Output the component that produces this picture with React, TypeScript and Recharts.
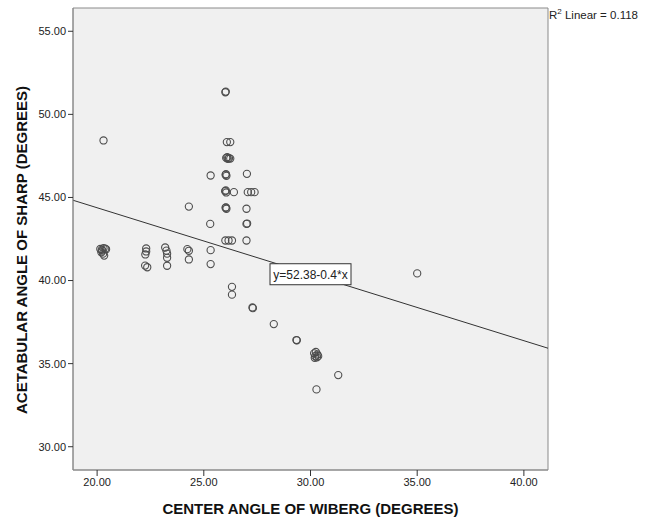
import React from 'react';
import { ScatterChart, Scatter, XAxis, YAxis, CartesianGrid, ReferenceLine, ReferenceArea, ReferenceDot, Label } from 'recharts';

// center angle of Wiberg (x) and acetabular angle of Sharp (y)
const wiberg = [
  20.15, 20.22, 20.3, 20.38, 20.42, 20.2, 20.28, 20.33, 20.25,
  22.3, 22.3, 22.26, 22.25, 22.35,
  23.19, 23.25, 23.28, 23.28, 23.28,
  24.23, 24.3, 24.3, 24.3,
  20.3,
  25.32, 25.32, 25.3, 25.32,
  26.01, 26.03,
  26.08, 26.24,
  26.05, 26.12, 26.18, 26.24, 26.1,
  26.02, 26.06, 26.04,
  26.0, 26.05, 26.03, 26.41,
  26.02, 26.06, 26.04,
  26.01, 26.16, 26.32,
  26.32, 26.32,
  27.02, 27.06, 27.22, 27.38, 27.0, 27.0, 27.03, 27.0,
  27.28, 27.3,
  28.28,
  29.34, 29.36,
  30.17, 30.25, 30.32, 30.22, 30.3, 30.36, 30.2,
  31.3,
  30.28,
  35.0,
];
const sharp = [
  41.9, 41.85, 41.95, 41.92, 41.88, 41.7, 41.62, 41.5, 41.8,
  41.93, 41.75, 41.57, 40.9, 40.8,
  41.99, 41.8, 41.62, 41.37, 40.89,
  41.89, 41.79, 41.27, 44.45,
  48.43,
  41.83, 40.99, 43.41, 46.32,
  51.33, 51.37,
  48.33, 48.33,
  47.38, 47.32, 47.36, 47.34, 47.42,
  46.36, 46.3, 46.4,
  45.38, 45.3, 45.42, 45.32,
  44.38, 44.32, 44.4,
  42.41, 42.41, 42.41,
  39.62, 39.15,
  46.42, 45.32, 45.32, 45.32, 44.32, 43.41, 43.43, 42.41,
  38.38, 38.34,
  37.38,
  36.42, 36.4,
  35.62, 35.7, 35.55, 35.45, 35.38, 35.45, 35.35,
  34.31,
  33.45,
  40.43,
];

const xTicks = [20, 25, 30, 35, 40];
const yTicks = [30, 35, 40, 45, 50, 55];
const xDomain = [18.87, 41.13];
const yDomain = [28.6, 56.4];

// fit line as printed on the chart
const intercept = 52.38;
const slope = -0.4;
const rSquared = '0.118';

const font = "'Liberation Sans', Arial, sans-serif";

const points = wiberg.map((x, i) => ({ x, y: sharp[i] }));
const fitAt = (x: number) => intercept + slope * x;

const Ring = (props: any) => (
  <circle cx={props.cx} cy={props.cy} r={3.6} fill="none" stroke="#4d4d4d" strokeWidth={1.1} />
);

const EquationBox = (props: any) => {
  const w = 81;
  const h = 21;
  return (
    <g>
      <rect x={props.cx - w / 2} y={props.cy - h / 2} width={w} height={h} fill="#fff" stroke="#333" strokeWidth={1} />
      <text x={props.cx} y={props.cy + 4.5} textAnchor="middle" fontSize={12} fontFamily={font} fill="#222">
        y=52.38-0.4*x
      </text>
    </g>
  );
};

const YTitle = () => (
  <text
    x={21}
    y={250}
    transform="rotate(-90, 21, 250)"
    textAnchor="middle"
    dominantBaseline="central"
    fontSize={15}
    fontWeight="bold"
    fill="#111"
    fontFamily={font}
  >
    ACETABULAR ANGLE OF SHARP (DEGREES)
  </text>
);

export default function App() {
  return (
    <div style={{ position: 'absolute', left: 0, top: 0, width: 648, height: 519, background: '#fff', fontFamily: font }}>
      <ScatterChart width={648} height={519} margin={{ top: 8, right: 100, bottom: 0, left: 0 }}>
        <CartesianGrid horizontal={false} vertical={false} fill="#f0f0f0" fillOpacity={1} />
        <XAxis
          type="number"
          dataKey="x"
          domain={xDomain}
          ticks={xTicks}
          allowDataOverflow
          height={49}
          tickSize={6}
          tickFormatter={(v: number) => v.toFixed(2)}
          tick={{ fontSize: 11, fill: '#222', fontFamily: font }}
          axisLine={{ stroke: '#8a8a8a' }}
          tickLine={{ stroke: '#333' }}
          label={{ value: 'CENTER ANGLE OF WIBERG (DEGREES)', position: 'insideBottom', offset: 5, style: { fontSize: 15, fontWeight: 'bold', fill: '#111', fontFamily: font } }}
        />
        <YAxis
          type="number"
          dataKey="y"
          domain={yDomain}
          ticks={yTicks}
          allowDataOverflow
          width={73}
          tickSize={5}
          tickFormatter={(v: number) => v.toFixed(2)}
          tick={{ fontSize: 11, fill: '#222', fontFamily: font }}
          axisLine={{ stroke: '#8a8a8a' }}
          tickLine={{ stroke: '#333' }}
        >
          <Label content={YTitle} />
        </YAxis>
        <ReferenceArea x1={xDomain[0]} x2={xDomain[1]} y1={yDomain[0]} y2={yDomain[1]} fill="none" stroke="#8a8a8a" strokeWidth={1} />
        <ReferenceLine
          segment={[
            { x: xDomain[0], y: fitAt(xDomain[0]) },
            { x: xDomain[1], y: fitAt(xDomain[1]) },
          ]}
          stroke="#333"
          strokeWidth={1}
        />
        <Scatter data={points} shape={Ring} isAnimationActive={false} />
        <ReferenceDot x={30} y={fitAt(30)} shape={EquationBox} />
      </ScatterChart>
      <div style={{ position: 'absolute', left: 549, top: 9, fontSize: 11.5, lineHeight: '12px', color: '#222' }}>
        R<sup style={{ fontSize: 8, lineHeight: 0 }}>2</sup> Linear = {rSquared}
      </div>
    </div>
  );
}
